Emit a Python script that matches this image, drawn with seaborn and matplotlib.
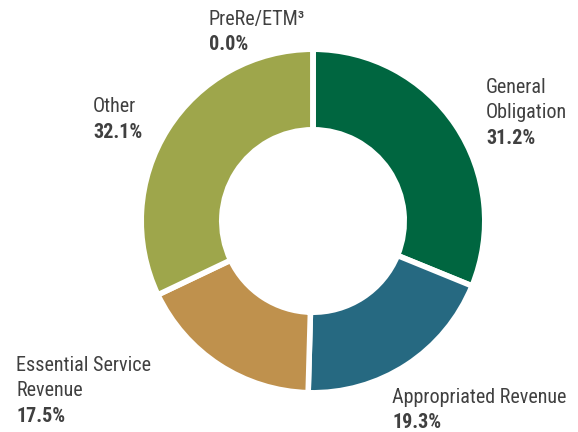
import matplotlib
matplotlib.use("Agg")
import matplotlib.pyplot as plt
import seaborn as sns

# data
categories = ["General\nObligation", "Appropriated Revenue", "Essential Service\nRevenue", "Other", "PreRe/ETM³"]
shares = [31.2, 19.3, 17.5, 32.1, 0.0]
colors = ["#006640", "#266981", "#BF914D", "#9EA64B", "#D9D9D9"]

# label anchor: left x and first baseline y, pixels from top-left
label_pos = [(486, 93), (392, 403), (16, 371), (93, 112), (209, 25)]

sns.set_theme(style="white")
plt.rcParams["font.family"] = ["Roboto Condensed", "DejaVu Sans"]

W, H = 578, 432
fig = plt.figure(figsize=(W / 100, H / 100), dpi=100)
ax = fig.add_axes([0, 0, 1, 1])

lw = 4
r_out = 169 + lw * 100 / 72 / 2
r_in = 94 - lw * 100 / 72 / 2
ax.pie(shares, colors=colors, startangle=90, counterclock=False,
       center=(313, H - 221), radius=r_out, frame=True,
       wedgeprops=dict(width=r_out - r_in, edgecolor="white", linewidth=lw))
ax.set_xlim(0, W)
ax.set_ylim(0, H)
ax.set_aspect("equal")
ax.axis("off")

txt_col = "#404040"
fs = 14.5
step = 25.5
for name, val, (x, y) in zip(categories, shares, label_pos):
    lines = name.split("\n")
    for i, line in enumerate(lines):
        ax.text(x, H - y - i * step, line, ha="left", va="baseline",
                fontsize=fs, color=txt_col)
    ax.text(x, H - y - len(lines) * step, f"{val:.1f}%", ha="left", va="baseline",
            fontsize=fs, color=txt_col, fontweight="bold")

fig.savefig("out.png", dpi=100)
